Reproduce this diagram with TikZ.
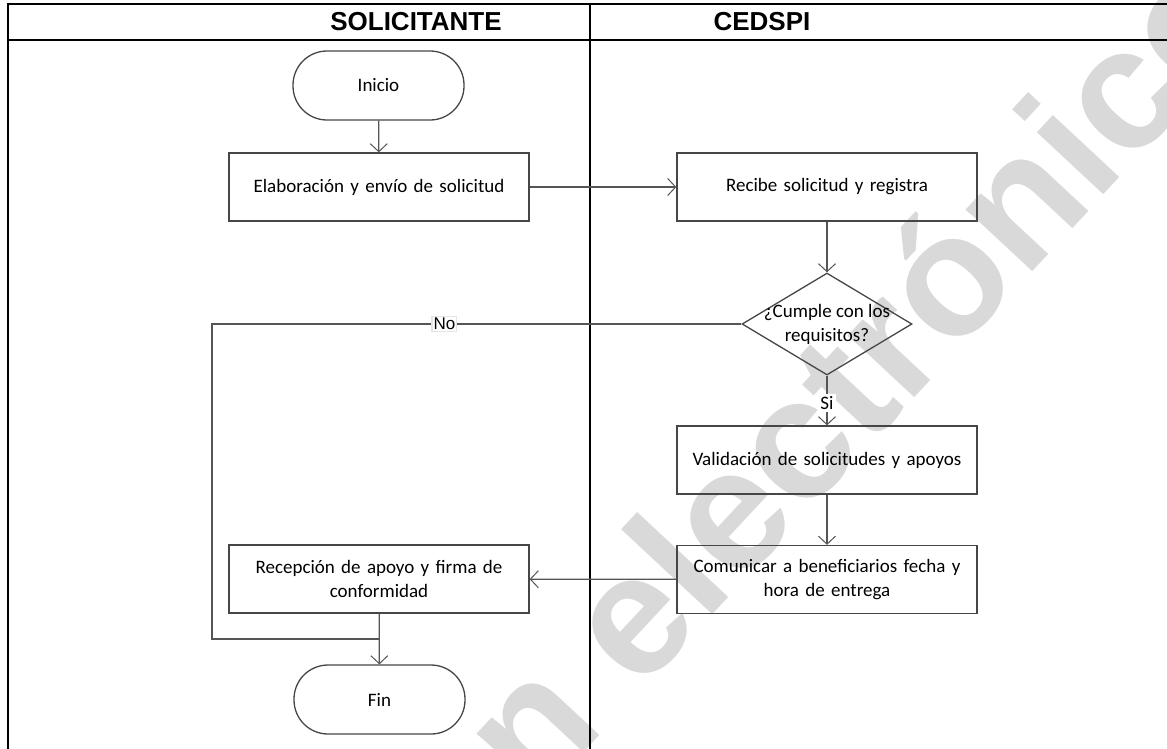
\documentclass[tikz,border=0pt]{standalone}
\usepackage{fontspec}
\setmainfont{Carlito}
\newfontfamily\arialfont{Liberation Sans}
\usetikzlibrary{arrows.meta,shapes.geometric}
\definecolor{lineg}{RGB}{85,85,85}
\definecolor{boxg}{RGB}{70,70,70}
\definecolor{wmark}{RGB}{217,217,217}
\tikzset{
  frame/.style={line width=2pt,black},
  procbox/.style={draw=boxg,line width=1.3pt,minimum width=300pt,minimum height=68pt,inner sep=2pt,align=center,font=\fontsize{19}{24}\selectfont,text width=294pt},
  termbox/.style={draw=boxg,line width=1.3pt,minimum width=171pt,minimum height=69pt,rounded corners=34pt,font=\fontsize{19}{24}\selectfont},
  decbox/.style={draw=boxg,line width=1.3pt,diamond,minimum width=170pt,minimum height=102pt,inner sep=0pt,aspect=1.667},
  flow/.style={draw=lineg,line width=1.2pt,-{Straight Barb[length=8pt,width=17pt,line width=1pt]}},
  plainflow/.style={draw=lineg,line width=1.2pt},
  hdr/.style={font=\arialfont\bfseries\fontsize{26}{30}\selectfont},
  flabel/.style={fill=white,inner sep=2pt}
}
\begin{document}
\begin{tikzpicture}[x=1pt,y=-1pt]
\useasboundingbox (0,0) rectangle (1167,748);
\begin{scope}
\clip (0,0) rectangle (1167,748);
\node[wmark,rotate=47,anchor=base west,font=\arialfont\bfseries\fontsize{172}{172}\selectfont,inner sep=0pt] (wm) at (470,875) {en electrónico};
\end{scope}
% frame
\draw[frame] (1170,4) -- (8,4) -- (8,750);
\draw[frame] (8,40) -- (1170,40);
\draw[frame] (590,4) -- (590,750);
\node[hdr] (h1) at (416,22) {SOLICITANTE};
\node[hdr] (h2) at (762,22) {CEDSPI};
% nodes
\node[termbox] (inicio) at (378.5,85.5) {Inicio};
\node[procbox] (elab) at (379,187) {Elaboración y envío de solicitud};
\node[procbox] (recibe) at (827,187) {Recibe solicitud y registra};
\node[decbox] (dec) at (827,324) {};
\node[font=\fontsize{19}{24}\selectfont,align=center] (dectxt) at (827,324) {¿Cumple con los\\requisitos?};
\node[procbox] (valid) at (827,460) {Validación de solicitudes y apoyos};
\node[procbox] (comun) at (827,579.5) {Comunicar a beneficiarios fecha y\\hora de entrega};
\node[procbox] (recep) at (379,579) {Recepción de apoyo y firma de\\conformidad};
\node[termbox] (fin) at (379.5,699.5) {Fin};
\coordinate (nl) at (212,324);
\coordinate (nb) at (212,639);
\coordinate (jn) at (379,639);
% connectors
\draw[flow] (inicio) -- (elab);
\draw[flow] (elab) -- (recibe);
\draw[flow] (recibe) -- (dec);
\draw[flow] (dec) -- node[flabel,font=\fontsize{19}{22}\selectfont,pos=0.55] (si) {Si} (valid);
\draw[flow] (valid) -- (comun);
\draw[flow] (comun) -- (recep);
\draw[plainflow] (dec.west) -- node[flabel,draw=black!10,font=\arialfont\fontsize{17}{20}\selectfont,pos=0.561,inner sep=1.5pt] (no) {No} (nl) -- (nb) -- (jn);
\draw[flow] (recep) -- (fin);
\end{tikzpicture}
\end{document}
